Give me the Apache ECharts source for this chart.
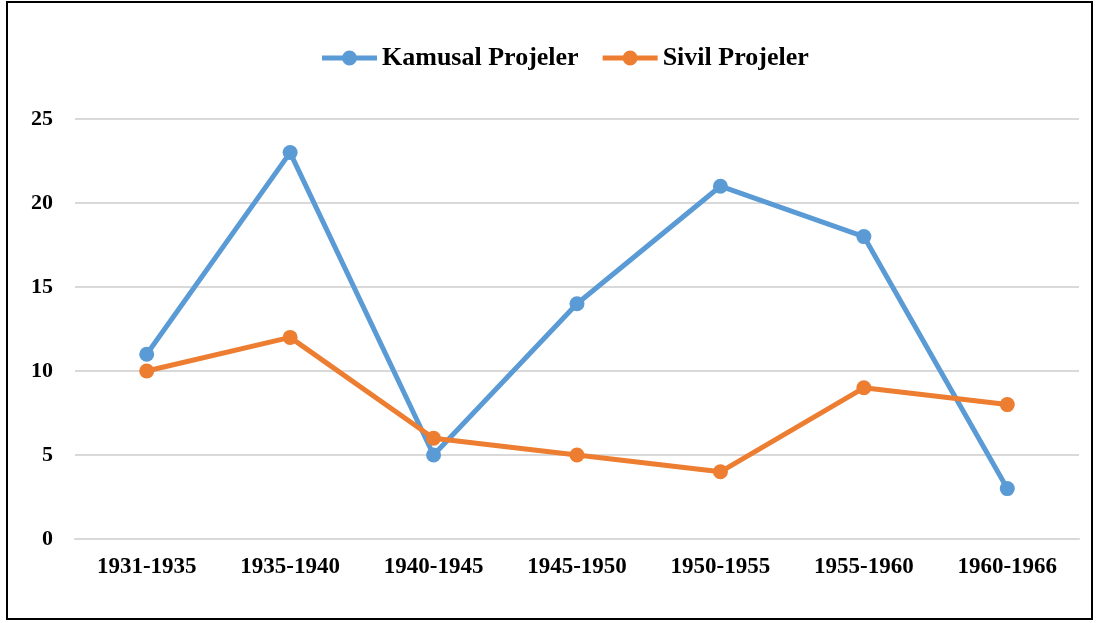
<!DOCTYPE html>
<html>
<head>
<meta charset="utf-8">
<script src="https://cdn.jsdelivr.net/npm/echarts@6/dist/echarts.min.js"></script>
<style>
html,body{margin:0;padding:0;background:#fff;}
#frame{position:absolute;left:6px;top:1px;width:1083px;height:615px;border:2px solid #000;background:#fff;}
#chart{position:absolute;left:0;top:0;width:1097px;height:623px;}
</style>
</head>
<body>
<div id="frame"></div>
<div id="chart"></div>
<script>
const categories = ['1931-1935','1935-1940','1940-1945','1945-1950','1950-1955','1955-1960','1960-1966'];
const kamusal = [11, 23, 5, 14, 21, 18, 3];
const sivil = [10, 12, 6, 5, 4, 9, 8];
const seriesNames = ['Kamusal Projeler', 'Sivil Projeler'];
const yTicks = { min: 0, max: 25, interval: 5 };

const font = "'Liberation Serif', 'Times New Roman', serif";
const legendIcon = 'path://M0,5 L20.5,5 L20.5,10 L0,10 Z M34.5,5 L55,5 L55,10 L34.5,10 Z M20,7.5 A7.5,7.5 0 1,1 35,7.5 A7.5,7.5 0 1,1 20,7.5 Z';
const chart = echarts.init(document.getElementById('chart'), null, {renderer: 'canvas'});
chart.setOption({
  backgroundColor: 'transparent',
  animation: false,
  legend: {
    top: 40,
    left: 317,
    itemWidth: 55,
    itemHeight: 15,
    itemGap: 24,
    textStyle: { fontFamily: font, fontWeight: 'bold', fontSize: 26, color: '#000' },
    data: seriesNames.map(n => ({ name: n, icon: legendIcon }))
  },
  grid: { left: 75, right: 18, top: 119, bottom: 84, containLabel: false },
  xAxis: {
    type: 'category',
    data: categories,
    boundaryGap: true,
    axisLine: { show: true, lineStyle: { color: '#d9d9d9', width: 2 } },
    axisTick: { show: false },
    axisLabel: { fontFamily: font, fontWeight: 'bold', fontSize: 23, color: '#000', margin: 17 }
  },
  yAxis: {
    type: 'value',
    min: yTicks.min, max: yTicks.max, interval: yTicks.interval,
    axisLine: { show: false },
    axisTick: { show: false },
    splitLine: { lineStyle: { color: '#d9d9d9', width: 2 } },
    axisLabel: { fontFamily: font, fontWeight: 'bold', fontSize: 22, color: '#000', margin: 22 }
  },
  series: [
    {
      name: seriesNames[0], type: 'line', data: kamusal,
      symbol: 'circle', symbolSize: 15,
      lineStyle: { width: 5, color: '#5b9bd5' },
      itemStyle: { color: '#5b9bd5' }
    },
    {
      name: seriesNames[1], type: 'line', data: sivil,
      symbol: 'circle', symbolSize: 15,
      lineStyle: { width: 5, color: '#ed7d31' },
      itemStyle: { color: '#ed7d31' }
    }
  ]
});
</script>
</body>
</html>
